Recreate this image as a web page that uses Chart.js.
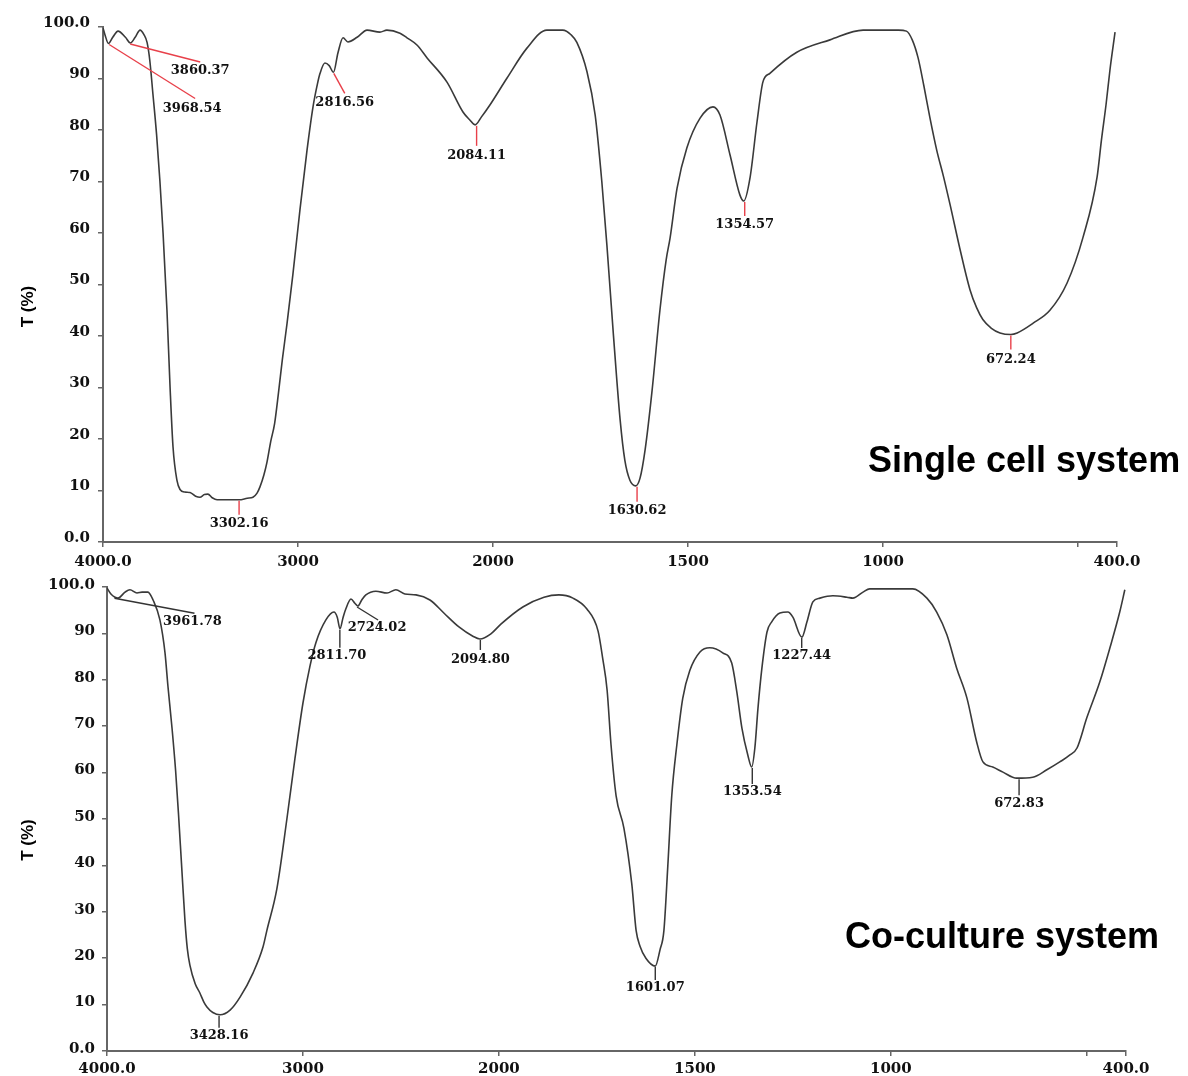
<!DOCTYPE html>
<html><head><meta charset="utf-8">
<script src="https://cdn.jsdelivr.net/npm/chart.js@4.4.1/dist/chart.umd.min.js"></script>
<style>
html,body{margin:0;padding:0;background:#fff;}
#wrap{position:relative;width:1188px;height:1076px;background:#fff;}
canvas{display:block;}
</style></head><body>
<div id="wrap">
<canvas id="c1" width="1188" height="570"></canvas>
<canvas id="c2" width="1188" height="506"></canvas>
</div>
<script>
// ---------- DATA ----------
const xTickValues = [4000, 3000, 2000, 1500, 1000, 500, 400];
const yTickMin = 0, yTickMax = 100, yTickStep = 10;
const yAxisTitle = 'T (%)';
const title1 = 'Single cell system';
const title2 = 'Co-culture system';

// Single cell system spectrum (wavenumber cm-1, transmittance %)
const wn1 = [4000,3990,3972,3950,3923,3885,3860,3835,3810,3790,3774,3760,3744,3725,3708,3692,3672,3656,3641,3621,3605,3580,3554,3525,3503,3480,3462,3440,3415,3349,3302,3260,3231,3210,3195,3175,3159,3140,3120,3100,3080,3056,3026,2990,2954,2923,2900,2887,2862,2840,2818,2795,2769,2744,2697,2646,2580,2544,2477,2441,2390,2338,2236,2154,2120,2092,2060,2015,1964,1913,1862,1821,1800,1785,1759,1738,1721,1708,1692,1674,1662,1649,1634,1623,1610,1592,1572,1556,1546,1528,1503,1469,1436,1418,1392,1367,1357,1341,1323,1308,1290,1221,1136,1051,1008,960,940,925,910,895,880,862,845,828,803,777,760,744,722,700,672,656,615,572,528,487,451,440,428,418,405];
const t1 = [99.8,98.5,96.8,98,99.2,98,96.9,98,99.4,98.5,97,93.5,87,79,70,60,45,30,18.5,12,10.2,9.7,9.6,8.9,8.7,9.2,9.3,8.6,8.2,8.2,8.2,8.5,8.7,9.5,10.7,13,15.5,19.5,23,29,35.5,42.5,52,64.5,76,84.5,89,91,93,92.5,91.2,95,97.9,97.1,98,99.4,99,99.4,98.8,97.9,96.5,94,89.3,83.5,82,81,82.5,84.9,90.1,95.9,99.4,99.4,98.5,97,91.3,82.9,70,57.7,41,23.7,15.9,12,10.9,12.4,17.9,29.5,45,54.8,59,68.7,76.5,82.3,84.5,82.9,75.1,67.4,66.2,70.7,81.6,89.3,91,95.1,97.5,99.4,99.4,99.4,99.2,97.5,94,88.5,82.5,76,71,65.5,57,49,45.5,43.2,41.5,40.6,40.3,40.6,42.5,45,50.3,59.2,70.9,78,85,91.7,99];

// Co-culture system spectrum
const wn2 = [4000,3980,3959,3944,3908,3883,3847,3821,3791,3765,3730,3704,3689,3668,3650,3635,3620,3602,3590,3577,3550,3526,3505,3490,3460,3423,3372,3321,3255,3204,3184,3133,3082,3041,3000,2964,2934,2883,2842,2825,2811,2795,2781,2755,2735,2720,2700,2679,2628,2571,2526,2480,2423,2352,2281,2204,2133,2097,2041,1995,1939,1885,1847,1811,1776,1747,1735,1724,1714,1701,1681,1661,1650,1640,1625,1601,1589,1579,1569,1559,1546,1531,1513,1487,1462,1429,1406,1393,1380,1365,1355,1347,1339,1329,1316,1304,1283,1263,1250,1227,1214,1199,1181,1148,1112,1097,1071,1054,944,908,883,857,832,806,781,765,740,714,679,638,602,569,543,525,500,467,441,416,403];
const t2 = [99.8,98.5,97.8,97.6,98.9,99.4,98.7,98.9,98.9,97.2,92.9,85.8,78.6,69.5,60.5,51,40.5,28,22,18.5,14.5,12.5,10.5,9.5,8.3,7.8,8.8,11.6,16.8,22.4,26,35,50,63,75,83,88,92.9,94.6,93.5,91,93.5,95.3,97.4,96.5,95.9,97.2,98.3,99.1,98.7,99.4,98.5,98.3,97.2,94.4,91.4,89.4,88.8,89.9,92,95.7,97.8,98.3,97.6,95.3,90.5,84.5,77.8,66,55,48,36,26,22.6,20,18.3,21.8,26,40,55,66,76,82,86,86.9,85.8,83.6,77.4,69.6,63.8,61.2,65.3,73.9,82.5,90.3,92.5,94.4,94.6,93.5,89.2,92.5,96.8,97.6,98.1,97.8,97.6,98.9,99.6,99.6,97.6,94.6,89.7,82.5,76.1,66.6,62.3,61.2,60.1,58.8,59,60.6,62.3,63.8,65.3,71.8,79.5,86.9,94.6,99.4];

// Peak labels
const peaks1Wn = [3968.54, 3860.37, 3302.16, 2816.56, 2084.11, 1630.62, 1354.57, 672.24];
const peaks1T = [96.8, 96.9, 8.2, 91.2, 81, 10.9, 66.2, 40.3];
const peaks1Labels = ['3968.54', '3860.37', '3302.16', '2816.56', '2084.11', '1630.62', '1354.57', '672.24'];
const peaks2Wn = [3961.78, 3428.16, 2811.70, 2724.02, 2094.80, 1601.07, 1353.54, 1227.44, 672.83];
const peaks2T = [97.8, 7.8, 91, 95.9, 88.8, 18.3, 61.2, 89.2, 58.8];
const peaks2Labels = ['3961.78', '3428.16', '2811.70', '2724.02', '2094.80', '1601.07', '1353.54', '1227.44', '672.83'];

// ---------- STYLE (leader line offsets, px) ----------
const leaders1 = [
  {dx:86, dy:55, tx:-3, ty:10}, {dx:70, dy:19, tx:0, ty:9}, {dx:0, dy:15, tx:0, ty:9},
  {dx:11, dy:21, tx:0, ty:9}, {dx:0, dy:21, tx:0, ty:10}, {dx:0, dy:16, tx:0, ty:9},
  {dx:0, dy:15, tx:0, ty:9}, {dx:0, dy:15, tx:0, ty:10}
];
const leaders2 = [
  {dx:80, dy:16, tx:-2, ty:8}, {dx:0, dy:13, tx:0, ty:8}, {dx:0, dy:19, tx:-3, ty:8},
  {dx:21, dy:14, tx:-1, ty:8}, {dx:0, dy:11, tx:0, ty:10}, {dx:0, dy:14, tx:0, ty:8},
  {dx:0, dy:17, tx:0, ty:8}, {dx:0, dy:11, tx:0, ty:8}, {dx:0, dy:17, tx:0, ty:8}
];

// ---------- FTIR piecewise axis (4000-2000 compressed x0.5) ----------
const SPAN = 2600;
function wnToFrac(v) { const t = v >= 2000 ? (4000 - v) / 2 : 1000 + (2000 - v); return t / SPAN; }
function fracToWn(f) { const t = f * SPAN; return t <= 1000 ? 4000 - 2 * t : 2000 - (t - 1000); }

class FtirScale extends Chart.LinearScale {
  static id = 'ftir';
  static defaults = Chart.LinearScale.defaults;
  getPixelForValue(value) {
    if (value === null || value === undefined || isNaN(value)) return NaN;
    return this.getPixelForDecimal(wnToFrac(value));
  }
  getValueForPixel(pixel) { return fracToWn(this.getDecimalForPixel(pixel)); }
}
Chart.register(FtirScale);

const tickFont = {family: '"DejaVu Serif", "Liberation Serif", serif', weight: 'bold', size: 15};
const axisColor = '#666';

function makeAnnot(cfg) {
  return {
    id: 'annot_' + cfg.name,
    afterDatasetsDraw(chart) {
      const {ctx} = chart; const xs = chart.scales.x, ys = chart.scales.y;
      ctx.save();
      ctx.font = 'bold 13px "DejaVu Serif", "Liberation Serif", serif';
      ctx.textAlign = 'center'; ctx.textBaseline = 'middle';
      cfg.wn.forEach((w, i) => {
        const px = xs.getPixelForValue(w), py = ys.getPixelForValue(cfg.t[i]);
        const s = cfg.leaders[i];
        ctx.strokeStyle = cfg.lineColor; ctx.lineWidth = 1.4;
        ctx.beginPath(); ctx.moveTo(px, py + 1); ctx.lineTo(px + s.dx, py + s.dy); ctx.stroke();
        ctx.fillStyle = '#111';
        ctx.fillText(cfg.labels[i], px + s.dx + s.tx, py + s.dy + s.ty);
      });
      // y-axis title
      const ca = chart.chartArea;
      ctx.save();
      ctx.translate(cfg.yTitleX, (ca.top + ca.bottom) / 2 + cfg.yTitleDy);
      ctx.rotate(-Math.PI / 2);
      ctx.font = 'bold 17px "Liberation Sans", Arial, sans-serif';
      ctx.fillStyle = '#000'; ctx.textAlign = 'center'; ctx.textBaseline = 'middle';
      ctx.fillText(yAxisTitle, 0, 0);
      ctx.restore();
      // panel title
      ctx.font = 'bold 36px "Liberation Sans", Arial, sans-serif';
      ctx.fillStyle = '#000'; ctx.textAlign = 'left'; ctx.textBaseline = 'alphabetic';
      ctx.fillText(cfg.title, cfg.titleX, cfg.titleY);
      ctx.restore();
    }
  };
}

function makeChart(id, wn, t, opt) {
  const pts = wn.map((w, i) => ({x: w, y: t[i]}));
  return new Chart(document.getElementById(id), {
    type: 'line',
    data: {datasets: [{data: pts, borderColor: '#3a3a3a', borderWidth: 1.6, pointRadius: 0,
      cubicInterpolationMode: 'monotone', fill: false}]},
    options: {
      responsive: false, animation: false, devicePixelRatio: 1,
      layout: {padding: {left: 0, top: opt.padTop, right: opt.padRight, bottom: 0}},
      plugins: {legend: {display: false}, tooltip: {enabled: false}},
      events: [],
      scales: {
        x: {
          type: 'ftir', min: 400, max: 4000,
          afterBuildTicks: (sc) => { sc.ticks = xTickValues.map(v => ({value: v})); },
          afterFit: (sc) => { sc.height = opt.xHeight; },
          ticks: {autoSkip: false, maxRotation: 0, font: tickFont, color: '#111', padding: opt.xPad,
            callback: (v) => v === 4000 ? '4000.0' : v === 400 ? '400.0' : v === 500 ? '' : String(v)},
          grid: {display: true, drawOnChartArea: false, drawTicks: true, tickLength: 5, color: axisColor, lineWidth: 1.5},
          border: {display: true, color: axisColor, width: 2}
        },
        y: {
          type: 'linear', min: yTickMin, max: yTickMax,
          afterFit: (sc) => { sc.width = opt.yWidth; },
          ticks: {stepSize: yTickStep, font: tickFont, color: '#111', padding: opt.yPad, labelOffset: opt.yLabelOffset,
            callback: (v) => v === 0 ? '0.0' : v === 100 ? '100.0' : String(v)},
          grid: {display: true, drawOnChartArea: false, drawTicks: true, tickLength: 5, color: axisColor, lineWidth: 1.5},
          border: {display: true, color: axisColor, width: 2}
        }
      }
    },
    plugins: [makeAnnot(opt.annot)]
  });
}

makeChart('c1', wn1, t1, {
  padTop: 27, padRight: 71, xHeight: 28, yWidth: 103, xPad: 6, yPad: 8, yLabelOffset: -4,
  annot: {name: 'a', wn: peaks1Wn, t: peaks1T, labels: peaks1Labels, leaders: leaders1, lineColor: '#e8404a',
    yTitleX: 28, yTitleDy: 22, title: title1, titleX: 868, titleY: 472}
});
makeChart('c2', wn2, t2, {
  padTop: 17, padRight: 62, xHeight: 25, yWidth: 107, xPad: 4, yPad: 7, yLabelOffset: -2,
  annot: {name: 'b', wn: peaks2Wn, t: peaks2T, labels: peaks2Labels, leaders: leaders2, lineColor: '#333',
    yTitleX: 28, yTitleDy: 21, title: title2, titleX: 845, titleY: 378}
});
</script>
</body></html>
